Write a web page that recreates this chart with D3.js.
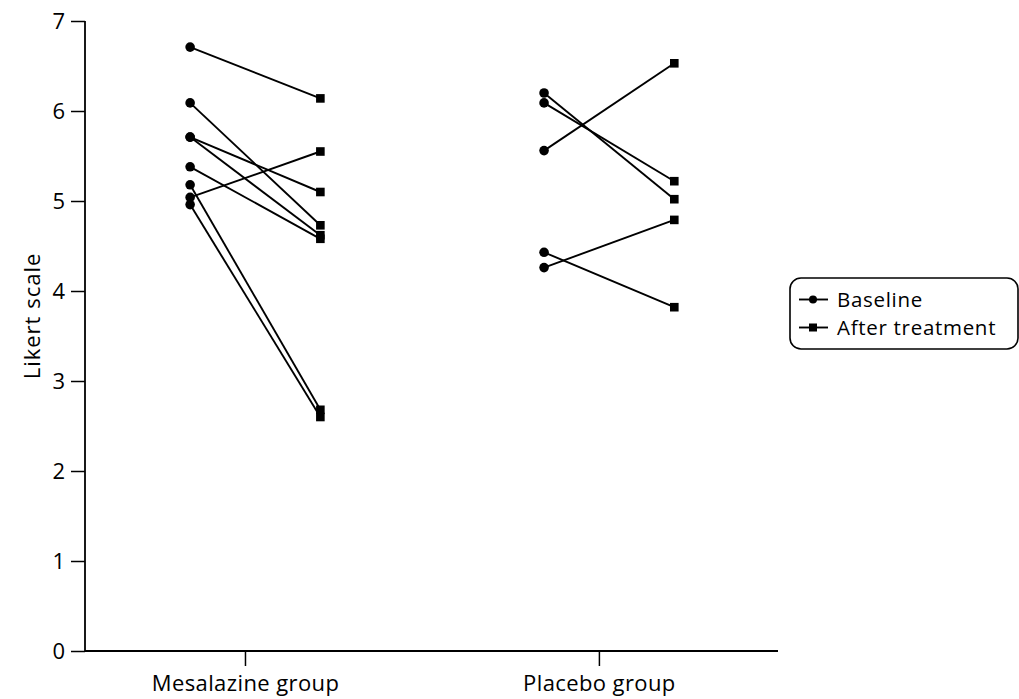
<!DOCTYPE html>
<html>
<head>
<meta charset="utf-8">
<script src="https://cdn.jsdelivr.net/npm/d3@7"></script>
<style>
  body { margin: 0; background: #fff; }
  svg text { font-family: "Open Sans", "Noto Sans", sans-serif; fill: #000; }
</style>
</head>
<body>
<div id="chart"></div>
<script>
// groups on the x axis
const groups = ["Mesalazine group", "Placebo group"];
const yTicks = [0, 1, 2, 3, 4, 5, 6, 7];

// one entry per patient, baseline and after treatment
const mesalazineBaseline = [6.71, 6.09, 5.71, 5.71, 5.38, 5.18, 5.04, 4.96];
const mesalazineAfter    = [6.14, 4.73, 5.10, 4.62, 4.58, 2.68, 5.55, 2.60];
const placeboBaseline = [6.20, 6.09, 5.56, 4.43, 4.26];
const placeboAfter    = [5.02, 5.22, 6.53, 3.82, 4.79];

const legendLabels = ["Baseline", "After treatment"];

const width = 1019, height = 699;

const svg = d3.select("#chart").append("svg")
    .attr("width", width)
    .attr("height", height);

// x is in "group units": group i sits at i + 1
const x = d3.scaleLinear().domain([0.548, 2.506]).range([85, 778]);
const y = d3.scaleLinear().domain([0, 7]).range([651, 21]);

const baseOffset = -0.155, afterOffset = 0.213;

// y axis
const yAxis = d3.axisLeft(y).tickValues(yTicks).tickSize(14).tickPadding(6).tickFormat(d3.format("d"));
const gy = svg.append("g").attr("transform", "translate(85,0)").call(yAxis);
gy.select(".domain").attr("stroke-width", 1.8).attr("d", `M0,${y(7)}V${y(0)}`);
gy.selectAll(".tick line").attr("stroke-width", 1.5);
gy.selectAll(".tick text").style("font-size", "22px");

// x axis
const xAxis = d3.axisBottom(x).tickValues([1, 2]).tickSize(15).tickPadding(9)
    .tickFormat(d => groups[d - 1]);
const gx = svg.append("g").attr("transform", `translate(0,${y(0)})`).call(xAxis);
gx.select(".domain").attr("stroke-width", 1.8).attr("d", `M${x.range()[0]},0H${x.range()[1]}`);
gx.selectAll(".tick line").attr("stroke-width", 1.5);
gx.selectAll(".tick text").style("font-size", "22px").style("letter-spacing", "0.4px");

// axis title
svg.append("text")
    .attr("transform", "translate(40,316) rotate(-90)")
    .attr("text-anchor", "middle")
    .style("font-size", "22px")
    .style("letter-spacing", "1px")
    .text("Likert scale");

// build pairs
const pairs = [];
mesalazineBaseline.forEach((b, i) => pairs.push({g: 1, b: b, a: mesalazineAfter[i]}));
placeboBaseline.forEach((b, i) => pairs.push({g: 2, b: b, a: placeboAfter[i]}));

const plot = svg.append("g");

plot.selectAll(".pair")
    .data(pairs)
    .enter().append("line")
    .attr("class", "pair")
    .attr("x1", d => x(d.g + baseOffset))
    .attr("y1", d => y(d.b))
    .attr("x2", d => x(d.g + afterOffset))
    .attr("y2", d => y(d.a))
    .attr("stroke", "#000")
    .attr("stroke-width", 1.9);

plot.selectAll(".base")
    .data(pairs)
    .enter().append("circle")
    .attr("class", "base")
    .attr("cx", d => x(d.g + baseOffset))
    .attr("cy", d => y(d.b))
    .attr("r", 4.8)
    .attr("fill", "#000");

const sq = 8.6;
plot.selectAll(".after")
    .data(pairs)
    .enter().append("rect")
    .attr("class", "after")
    .attr("x", d => x(d.g + afterOffset) - sq / 2)
    .attr("y", d => y(d.a) - sq / 2)
    .attr("width", sq)
    .attr("height", sq)
    .attr("fill", "#000");

// legend
const legend = svg.append("g").attr("transform", "translate(790,278)");
legend.append("rect")
    .attr("x", 0).attr("y", 0)
    .attr("width", 228).attr("height", 71)
    .attr("rx", 11).attr("ry", 11)
    .attr("fill", "none")
    .attr("stroke", "#000")
    .attr("stroke-width", 1.6);

legendLabels.forEach((lab, i) => {
    const ly = 21.5 + i * 28;
    const row = legend.append("g").attr("transform", `translate(0,${ly})`);
    row.append("line")
        .attr("x1", 9).attr("x2", 38)
        .attr("y1", 0).attr("y2", 0)
        .attr("stroke", "#000").attr("stroke-width", 1.9);
    if (i === 0) {
        row.append("circle").attr("cx", 23).attr("cy", 0).attr("r", 4).attr("fill", "#000");
    } else {
        row.append("rect").attr("x", 19).attr("y", -4).attr("width", 8).attr("height", 8).attr("fill", "#000");
    }
    row.append("text")
        .attr("x", 47).attr("y", 0).attr("dy", "0.35em")
        .style("font-size", "20.5px")
        .style("letter-spacing", "0.7px")
        .text(lab);
});
</script>
</body>
</html>
